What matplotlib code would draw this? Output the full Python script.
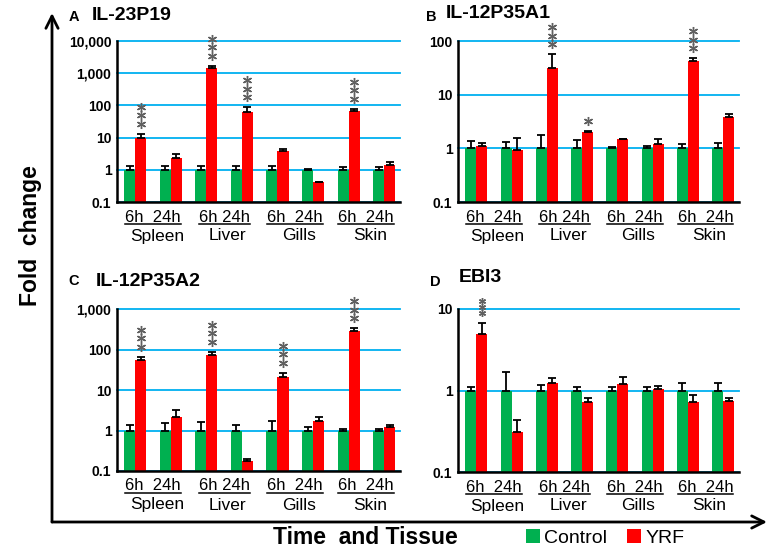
import numpy as np
import matplotlib
matplotlib.use("Agg")
import matplotlib.pyplot as plt
from matplotlib.patches import FancyArrowPatch
from matplotlib.lines import Line2D
from matplotlib.ticker import FixedLocator, FixedFormatter, NullLocator
from matplotlib.transforms import offset_copy

plt.rcParams['font.family'] = ['Liberation Sans', 'DejaVu Sans']

# ---- data (fold change) ----
tissues = ['Spleen', 'Liver', 'Gills', 'Skin']
time_labels = ['6h  24h', '6h 24h', '6h  24h', '6h  24h']
legend_labels = ['Control', 'YRF']

# panel A: IL-23P19
a_ctrl = [1, 1, 1, 1, 1, 1, 1, 1]
a_ctrl_top = [1.33, 1.3, 1.35, 1.35, 1.3, 1.05, 1.25, 1.2]
a_yrf = [10, 2.35, 1430, 62, 3.9, 0.41, 67, 1.4]
a_yrf_top = [13.3, 3.2, 1730, 89, 4.5, 0.43, 80, 1.77]
a_stars = [3, 0, 3, 3, 0, 0, 3, 0]

# panel B: IL-12P35A1
b_ctrl = [1, 1, 1, 1, 1, 1, 1, 1]
b_ctrl_top = [1.39, 1.29, 1.79, 1.45, 1.06, 1.12, 1.19, 1.25]
b_yrf = [1.1, 0.92, 31, 2.0, 1.47, 1.2, 42, 3.9]
b_yrf_top = [1.24, 1.55, 57, 2.1, 1.5, 1.47, 48, 4.4]
b_stars = [0, 0, 3, 1, 0, 0, 3, 0]

# panel C: IL-12P35A2
c_ctrl = [1, 1, 1, 1, 1, 1, 1, 1]
c_ctrl_top = [1.35, 1.56, 1.66, 1.35, 1.76, 1.25, 1.06, 1.06]
c_yrf = [56, 2.2, 74, 0.18, 21.5, 1.7, 289, 1.19]
c_yrf_top = [67, 3.3, 87, 0.2, 27, 2.2, 335, 1.33]
c_stars = [3, 0, 3, 0, 3, 0, 3, 0]

# panel D: EBI3
d_ctrl = [1, 1, 1, 1, 1, 1, 1, 1]
d_ctrl_top = [1.11, 1.68, 1.17, 1.11, 1.11, 1.11, 1.23, 1.23]
d_yrf = [4.9, 0.31, 1.24, 0.726, 1.21, 1.03, 0.73, 0.75]
d_yrf_top = [6.8, 0.43, 1.42, 0.81, 1.46, 1.15, 0.87, 0.81]
d_stars = [3, 0, 0, 0, 0, 0, 0, 0]

a_ticks = [0.1, 1, 10, 100, 1000, 10000]
a_ticklabels = ['0.1', '1', '10', '100', '1,000', '10,000']
b_ticks = [0.1, 1, 10, 100]
b_ticklabels = ['0.1', '1', '10', '100']
c_ticks = [0.1, 1, 10, 100, 1000]
c_ticklabels = ['0.1', '1', '10', '100', '1,000']
d_ticks = [0.1, 1, 10]
d_ticklabels = ['0.1', '1', '10']

GREEN = '#00b050'
RED = '#ff0000'
GRID = '#00b0f0'
STAR = '#606060'

W, H = 772, 551
fig = plt.figure(figsize=(W / 100, H / 100), dpi=100)


def px_rect(left, top, right, bottom):
    return [left / W, 1 - bottom / H, (right - left) / W, (bottom - top) / H]


panels = [
    dict(rect=px_rect(117, 41, 400, 202), letter='A', title='IL-23P19',
         lpos=(74, 17), tpos=(92, 15),
         ctrl=a_ctrl, ctrl_top=a_ctrl_top, yrf=a_yrf, yrf_top=a_yrf_top,
         stars=a_stars, ticks=a_ticks, labels=a_ticklabels, star_gap=8.5),
    dict(rect=px_rect(458, 41, 739, 202), letter='B', title='IL-12P35A1',
         lpos=(431, 17), tpos=(446, 13),
         ctrl=b_ctrl, ctrl_top=b_ctrl_top, yrf=b_yrf, yrf_top=b_yrf_top,
         stars=b_stars, ticks=b_ticks, labels=b_ticklabels, star_gap=8.5),
    dict(rect=px_rect(117, 309, 400, 471), letter='C', title='IL-12P35A2',
         lpos=(74, 281), tpos=(96, 281),
         ctrl=c_ctrl, ctrl_top=c_ctrl_top, yrf=c_yrf, yrf_top=c_yrf_top,
         stars=c_stars, ticks=c_ticks, labels=c_ticklabels, star_gap=8.5),
    dict(rect=px_rect(458, 309, 739, 472), letter='D', title='EBI3',
         lpos=(435, 282), tpos=(459, 277),
         ctrl=d_ctrl, ctrl_top=d_ctrl_top, yrf=d_yrf, yrf_top=d_yrf_top,
         stars=d_stars, ticks=d_ticks, labels=d_ticklabels, star_gap=6),
]

x = np.arange(8)
bw = 0.31
time_texts = []
handles = None

for p in panels:
    ax = fig.add_axes(p['rect'])
    ctrl = np.array(p['ctrl'])
    yrf = np.array(p['yrf'])
    g = ax.bar(x - bw / 2, ctrl, bw, color=GREEN, zorder=2)
    r = ax.bar(x + bw / 2, yrf, bw, color=RED, zorder=2)
    handles = [g, r]
    ax.errorbar(x - bw / 2, ctrl, yerr=[np.zeros(8), np.array(p['ctrl_top']) - ctrl],
                fmt='none', ecolor='black', elinewidth=1.3, capsize=3, capthick=1.3, zorder=3)
    ax.errorbar(x + bw / 2, yrf, yerr=[np.zeros(8), np.array(p['yrf_top']) - yrf],
                fmt='none', ecolor='black', elinewidth=1.3, capsize=3, capthick=1.3, zorder=3)

    ax.set_yscale('log')
    ax.set_ylim(p['ticks'][0], p['ticks'][-1])
    ax.set_xlim(-0.52, 7.45)
    ax.yaxis.set_major_locator(FixedLocator(p['ticks']))
    ax.yaxis.set_major_formatter(FixedFormatter(p['labels']))
    ax.yaxis.set_minor_locator(NullLocator())
    ax.set_xticks([])
    ax.tick_params(axis='y', length=0, pad=4, labelsize=10)
    for lab in ax.get_yticklabels():
        lab.set_fontweight('bold')
    ax.yaxis.grid(True, color=GRID, lw=1.3)
    for gl in ax.get_ygridlines():
        gl.set_clip_on(False)
    ax.set_axisbelow(True)
    for s in ['top', 'right']:
        ax.spines[s].set_visible(False)
    for s in ['left', 'bottom']:
        ax.spines[s].set_linewidth(1.8)
        ax.spines[s].set_zorder(4)

    # significance stars above YRF bars
    for i, n in enumerate(p['stars']):
        for k in range(n):
            dy = 10 + p['star_gap'] * k
            tr = offset_copy(ax.transData, fig=fig, x=0, y=dy, units='dots')
            ax.plot(x[i] + bw / 2, p['yrf_top'][i], marker=(6, 2, 0), ms=6.5 if p['star_gap'] > 7 else 5,
                    mew=1.0, color=STAR, transform=tr, clip_on=False, zorder=5)

    # time / tissue labels under each pair of groups
    for j, tis in enumerate(tissues):
        mid = (x[2 * j] + x[2 * j + 1]) / 2
        t = ax.annotate(time_labels[j], xy=(mid, 0), xycoords=('data', 'axes fraction'),
                        xytext=(0, -15), textcoords='offset pixels', ha='center', va='center',
                        fontsize=12, annotation_clip=False)
        time_texts.append(t)
        ax.annotate(tis, xy=(mid + 0.1, 0), xycoords=('data', 'axes fraction'),
                    xytext=(0, -34), textcoords='offset pixels', ha='center', va='center',
                    fontsize=12.5, annotation_clip=False)

    fig.text(p['lpos'][0] / W, 1 - p['lpos'][1] / H, p['letter'], fontsize=10.5, fontweight='bold',
             ha='center', va='center')
    fig.text(p['tpos'][0] / W, 1 - p['tpos'][1] / H, p['title'], fontsize=14, fontweight='bold',
             ha='left', va='center')

# underline the "6h 24h" labels
fig.canvas.draw()
renderer = fig.canvas.get_renderer()
for t in time_texts:
    bb = t.get_window_extent(renderer)
    y0 = (bb.y0 + 1) / H
    fig.add_artist(Line2D([bb.x0 / W, bb.x1 / W], [y0, y0], color='black', lw=1.1,
                          transform=fig.transFigure))

# outer axes with arrows
corner = (52 / W, 1 - 522 / H)
fig.add_artist(FancyArrowPatch(corner, (52 / W, 1 - 13 / H), transform=fig.transFigure,
                               arrowstyle='->', mutation_scale=22, lw=2, color='black',
                               shrinkA=0, shrinkB=0))
fig.add_artist(FancyArrowPatch(corner, (767 / W, 1 - 522 / H), transform=fig.transFigure,
                               arrowstyle='->', mutation_scale=22, lw=2, color='black',
                               shrinkA=0, shrinkB=0))

fig.text(30 / W, 1 - 236 / H, 'Fold  change', rotation=90, fontsize=16.5, fontweight='bold',
         ha='center', va='center')
fig.text(365 / W, 1 - 538 / H, 'Time  and Tissue', fontsize=16.5, fontweight='bold',
         ha='center', va='center')

fig.legend(handles, legend_labels, loc='center', bbox_to_anchor=(605 / W, 1 - 538 / H),
           ncol=2, frameon=False, fontsize=14, handlelength=0.75, handleheight=0.75,
           handletextpad=0.2, columnspacing=1.0, borderpad=0)

fig.savefig('out.png', dpi=100)
plt.close(fig)
